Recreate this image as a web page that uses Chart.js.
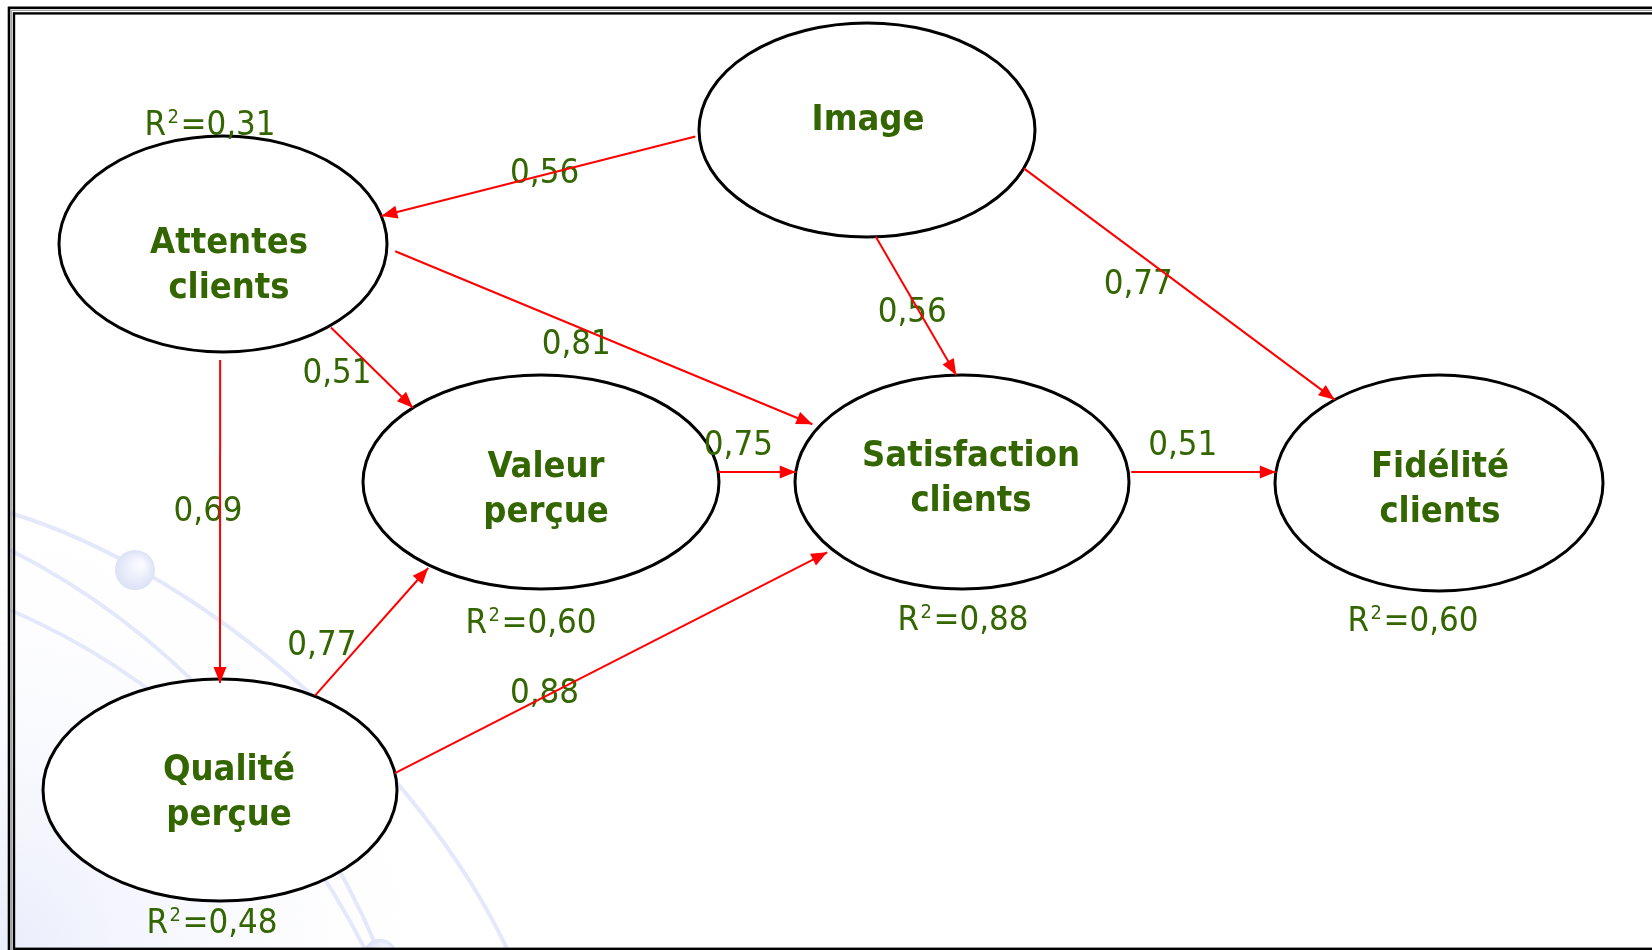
<!DOCTYPE html>
<html>
<head>
<meta charset="utf-8">
<script src="https://cdn.jsdelivr.net/npm/chart.js@4.4.1/dist/chart.umd.min.js"></script>
<style>
  html, body { margin: 0; padding: 0; background: #fff; }
  canvas { display: block; }
</style>
</head>
<body>
<canvas id="chart" width="1652" height="950"></canvas>
<script>
// latent variables of the model
const nodeNames = ["Image", "Attentes", "Valeur", "Satisfaction", "Fidelite", "Qualite"];
const nodeLabels = [["Image"], ["Attentes", "clients"], ["Valeur", "perçue"], ["Satisfaction", "clients"], ["Fidélité", "clients"], ["Qualité", "perçue"]];
const rSquared = [null, 0.31, 0.60, 0.88, 0.60, 0.48];

// structural paths and their coefficients
const pathFrom = ["Image", "Image", "Image", "Attentes", "Attentes", "Attentes", "Qualite", "Qualite", "Valeur", "Satisfaction"];
const pathTo = ["Attentes", "Satisfaction", "Fidelite", "Satisfaction", "Valeur", "Qualite", "Valeur", "Satisfaction", "Satisfaction", "Fidelite"];
const pathCoef = [0.56, 0.56, 0.77, 0.81, 0.51, 0.69, 0.77, 0.88, 0.75, 0.51];

// layout (centre, radii, label offsets) in chart units
const nodeLayout = {
  Image:        { x: 867, y: 130, rx: 168, ry: 107, tx: 1, ty: 0 },
  Attentes:     { x: 223, y: 244, rx: 164, ry: 108, tx: 6, ty: 9, r2x: -13, r2y: -109 },
  Valeur:       { x: 541, y: 482, rx: 178, ry: 107, tx: 5, ty: -5, r2x: -10, r2y: 151 },
  Satisfaction: { x: 962, y: 482, rx: 167, ry: 107, tx: 9, ty: -16, r2x: 1, r2y: 148 },
  Fidelite:     { x: 1439, y: 483, rx: 164, ry: 108, tx: 1, ty: -6, r2x: -26, r2y: 148 },
  Qualite:      { x: 220, y: 790, rx: 177, ry: 111, tx: 9, ty: -10, r2x: -8, r2y: 143 }
};
// [angle on source, angle on target, start gap, end gap, label position, label dx, label dy]
const edgeLayout = [
  [177, -15, 4, 0, 0.48, 0, -4],
  [87, -92, 0, 0, 0.528, -6, 0],
  [21, -129.5, 0, 0, 0.368, 0, 28],
  [2, -149, 9, 7, 0.434, 0, 15],
  [49.5, -136, 2, 0, 0.538, -38, 0],
  [91, -90, 8, -4, 0.46, -12, 0],
  [-57.7, 128.5, 1, 3, 0.413, -40, 0],
  [-8.7, 140.8, 0, 6, 0.346, 0, -6],
  [-5.4, -174.6, 0, 0, 0.26, 0, -29],
  [-5.3, -174.2, 3, 0, 0.356, 0, -30]
];

const GREEN = "#336600";
const fmt = v => v.toFixed(2).replace(".", ",");
const rad = d => d * Math.PI / 180;

function boundaryPoint(n, deg) {
  return { x: n.x + n.rx * Math.cos(rad(deg)), y: n.y + n.ry * Math.sin(rad(deg)) };
}

const edgePoints = pathFrom.map((f, i) => {
  const a = nodeLayout[f], b = nodeLayout[pathTo[i]];
  const [fa, ta, g0, g1] = edgeLayout[i];
  const p0 = boundaryPoint(a, fa), p1 = boundaryPoint(b, ta);
  const dx = p1.x - p0.x, dy = p1.y - p0.y, len = Math.hypot(dx, dy);
  const ux = dx / len, uy = dy / len;
  return [{ x: p0.x + ux * g0, y: p0.y + uy * g0 }, { x: p1.x - ux * g1, y: p1.y - uy * g1 }];
});

// Tahoma-like text: use DejaVu Sans Condensed, or squeeze DejaVu Sans if it is missing
function hasFont(name) {
  const c = document.createElement("canvas").getContext("2d");
  c.font = "40px monospace";
  const a = c.measureText("Satisfaction mmm").width;
  c.font = '40px "' + name + '", monospace';
  return c.measureText("Satisfaction mmm").width !== a;
}
const condensed = hasFont("DejaVu Sans Condensed");

function setFont(ctx, size, bold) {
  ctx.font = (bold ? "bold " : "") + size + (condensed ? 'px "DejaVu Sans Condensed"' : 'px "DejaVu Sans"');
  return condensed ? 1 : 0.9;
}

function drawText(ctx, str, x, y, size, bold) {
  ctx.save();
  const sx = setFont(ctx, size, bold);
  ctx.translate(x, y);
  ctx.scale(sx, 1);
  ctx.textAlign = "center";
  ctx.textBaseline = "alphabetic";
  ctx.fillStyle = GREEN;
  ctx.fillText(str, 0, 0);
  ctx.restore();
}

// "R" + raised "2" + "=0,xx", centred on x
function drawR2(ctx, value, x, y) {
  const parts = [["R", 34.5, 0], ["2", 20, -12], ["=" + fmt(value), 34.5, 0]];
  ctx.save();
  const widths = parts.map(p => setFont(ctx, p[1], false) * ctx.measureText(p[0]).width);
  const gap = 1.5;
  const total = widths.reduce((s, w) => s + w, 0) + gap * 2;
  let cx = x - total / 2;
  ctx.textAlign = "left";
  ctx.textBaseline = "alphabetic";
  ctx.fillStyle = GREEN;
  parts.forEach((p, i) => {
    const sx = setFont(ctx, p[1], false);
    ctx.save();
    ctx.translate(cx, y + p[2]);
    ctx.scale(sx, 1);
    ctx.fillText(p[0], 0, 0);
    ctx.restore();
    cx += widths[i] + gap;
  });
  ctx.restore();
}

const diagramPlugin = {
  id: "diagram",
  beforeDatasetsDraw(chart) {
    const ctx = chart.ctx, xs = chart.scales.x, ys = chart.scales.y;
    const px = v => xs.getPixelForValue(v), py = v => ys.getPixelForValue(v);

    // faint background swirl, lower left
    ctx.save();
    const g = ctx.createRadialGradient(px(0), py(950), 0, px(0), py(950), 470);
    g.addColorStop(0, "rgba(226,230,250,0.75)");
    g.addColorStop(0.35, "rgba(236,238,252,0.45)");
    g.addColorStop(1, "rgba(255,255,255,0)");
    ctx.fillStyle = g;
    ctx.fillRect(0, py(420), px(600), py(950) - py(420));
    ctx.strokeStyle = "rgba(228,231,250,0.95)";
    ctx.lineWidth = 4;
    [[10, 513, 200, 570, 420, 760, 510, 955],
     [10, 550, 150, 620, 300, 760, 380, 955],
     [10, 610, 150, 670, 280, 780, 368, 955]].forEach(c => {
      ctx.beginPath();
      ctx.moveTo(px(c[0]), py(c[1]));
      ctx.bezierCurveTo(px(c[2]), py(c[3]), px(c[4]), py(c[5]), px(c[6]), py(c[7]));
      ctx.stroke();
    });
    [[135, 570, 20], [380, 956, 17]].forEach(s => {
      const sg = ctx.createRadialGradient(px(s[0]) + 6, py(s[1]) - 6, 2, px(s[0]), py(s[1]), s[2]);
      sg.addColorStop(0, "#fbfbff");
      sg.addColorStop(1, "#dce1f6");
      ctx.fillStyle = sg;
      ctx.beginPath();
      ctx.arc(px(s[0]), py(s[1]), s[2], 0, 2 * Math.PI);
      ctx.fill();
    });
    ctx.restore();

    // ellipses
    const meta = chart.getDatasetMeta(0);
    ctx.save();
    nodeNames.forEach((n, i) => {
      const L = nodeLayout[n], pt = meta.data[i];
      const rx = Math.abs(px(L.x + L.rx) - pt.x);
      const ry = Math.abs(py(L.y + L.ry) - pt.y);
      ctx.beginPath();
      ctx.ellipse(pt.x, pt.y, rx, ry, 0, 0, 2 * Math.PI);
      ctx.fillStyle = "#ffffff";
      ctx.fill();
      ctx.lineWidth = 3;
      ctx.strokeStyle = "#000000";
      ctx.stroke();
      nodeLabels[i].forEach((line, k) => {
        drawText(ctx, line, px(L.x + L.tx), py(L.y + L.ty + k * 45), 36, true);
      });
      if (rSquared[i] !== null) {
        drawR2(ctx, rSquared[i], px(L.x + L.r2x), py(L.y + L.r2y));
      }
    });

    // path coefficients (the arrows are drawn over them)
    pathCoef.forEach((v, i) => {
      const [p0, p1] = edgePoints[i];
      const e = edgeLayout[i];
      const lx = p0.x + e[4] * (p1.x - p0.x) + e[5];
      const ly = p0.y + e[4] * (p1.y - p0.y) + e[6];
      drawText(ctx, fmt(v), px(lx), py(ly) + 12.5, 34.5, false);
    });
    ctx.restore();
  },
  afterDatasetsDraw(chart) {
    const ctx = chart.ctx;
    ctx.save();
    ctx.fillStyle = "#ff0000";
    pathFrom.forEach((f, i) => {
      const meta = chart.getDatasetMeta(i + 1);
      const a = meta.data[0], b = meta.data[1];
      const ang = Math.atan2(b.y - a.y, b.x - a.x);
      const len = 16, hw = 6.5;
      ctx.beginPath();
      ctx.moveTo(b.x, b.y);
      ctx.lineTo(b.x - len * Math.cos(ang) + hw * Math.sin(ang), b.y - len * Math.sin(ang) - hw * Math.cos(ang));
      ctx.lineTo(b.x - len * Math.cos(ang) - hw * Math.sin(ang), b.y - len * Math.sin(ang) + hw * Math.cos(ang));
      ctx.closePath();
      ctx.fill();
    });
    ctx.restore();
  },
  afterDraw(chart) {
    // double frame
    const ctx = chart.ctx;
    ctx.save();
    ctx.strokeStyle = "#000";
    ctx.lineWidth = 2.6;
    ctx.strokeRect(9, 7.8, 1700, 960);
    ctx.strokeStyle = "#9a9a9a";
    ctx.lineWidth = 1;
    ctx.strokeRect(11.4, 10.4, 1700, 960);
    ctx.strokeStyle = "#000";
    ctx.lineWidth = 2.4;
    ctx.strokeRect(14, 13.4, 1700, 935.4);
    ctx.restore();
  }
};

new Chart(document.getElementById("chart"), {
  type: "scatter",
  data: {
    datasets: [
      {
        label: "Variables",
        data: nodeNames.map(n => ({ x: nodeLayout[n].x, y: nodeLayout[n].y })),
        pointRadius: 0
      },
      ...edgePoints.map((pts, i) => ({
        type: "line",
        label: pathFrom[i] + " → " + pathTo[i],
        data: pts,
        borderColor: "#ff0000",
        borderWidth: 2,
        pointRadius: 0,
        fill: false,
        tension: 0
      }))
    ]
  },
  options: {
    responsive: false,
    animation: false,
    devicePixelRatio: 1,
    events: [],
    layout: { padding: 0 },
    scales: {
      x: { type: "linear", min: 0, max: 1652, display: false },
      y: { type: "linear", min: 0, max: 950, reverse: true, display: false }
    },
    plugins: {
      legend: { display: false },
      tooltip: { enabled: false }
    }
  },
  plugins: [diagramPlugin]
});
</script>
</body>
</html>
